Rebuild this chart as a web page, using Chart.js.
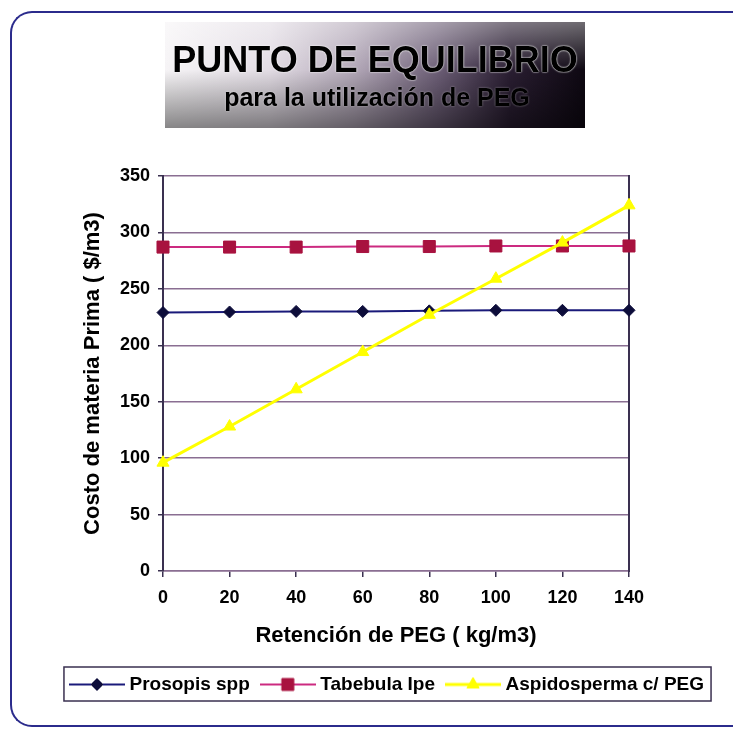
<!DOCTYPE html>
<html>
<head>
<meta charset="utf-8">
<script src="https://cdn.jsdelivr.net/npm/chart.js@4"></script>
<style>
  html, body { margin: 0; padding: 0; background: #fff; overflow: hidden; }
  #wrap { position: relative; width: 733px; height: 730px; overflow: hidden; }
  #frame {
    position: absolute; left: 10px; top: 11px; width: 723px; height: 716px;
    border: 2px solid #2b2b8c; border-right: none;
    border-radius: 22px 0 0 22px; box-sizing: border-box;
  }
  #chart { position: absolute; left: 0; top: 0; }
  #banner {
    position: absolute; left: 165px; top: 22px; width: 420px; height: 106px;
    background:
      linear-gradient(180deg, rgba(255,255,255,0.4) 0%, rgba(255,255,255,0) 45%, rgba(0,0,0,0.45) 100%),
      linear-gradient(90deg, #f6f4f6 0%, #e2dce4 25%, #b3a8b8 45%, #6c5e76 65%, #2a1e32 82%, #0e0812 100%);
  }
  #banner div {
    position: absolute; left: 0; width: 100%; text-align: center;
    font-family: "Liberation Sans", Arial, sans-serif; font-weight: bold; color: #000;
    white-space: nowrap;
  }
  #banner .t1 { top: 20px; font-size: 36px; line-height: 36px; text-shadow: 0 0 2px #fff, 0 0 1px #fff; }
  #banner .t2 { top: 63px; left: 2px; font-size: 25px; line-height: 25px; text-shadow: 0 0 2px rgba(255,255,255,0.5); }
</style>
</head>
<body>
<div id="wrap">
  <div id="frame"></div>
  <canvas id="chart" width="733" height="730"></canvas>
  <div id="banner">
    <div class="t1">PUNTO DE EQUILIBRIO</div>
    <div class="t2">para la utilización de PEG</div>
  </div>
</div>
<script>
// Retención de PEG (kg/m3)
const retencion = ['0', '20', '40', '60', '80', '100', '120', '140'];
// Costo de materia prima ($/m3)
const prosopis = [229, 229.5, 230, 230, 230.5, 231, 231, 231];
const tabebula = [287, 287, 287, 287.5, 287.5, 288, 288, 288];
const aspidosperma = [96, 128, 161, 194, 227, 259, 291, 324];
const yTicks = [0, 50, 100, 150, 200, 250, 300, 350];

const seriesNames = ['Prosopis spp', 'Tabebula Ipe', 'Aspidosperma c/ PEG'];

const FONT = '"Liberation Sans", Arial, sans-serif';
const GRID = '#8a6e92';
const AXIS = '#3a3050';

// Small line + marker swatches for the legend
function swatch(color, width, marker, fill) {
  const c = document.createElement('canvas');
  c.width = 56; c.height = 20;
  const g = c.getContext('2d');
  g.strokeStyle = color; g.lineWidth = width;
  g.beginPath(); g.moveTo(0, 10); g.lineTo(56, 10); g.stroke();
  g.fillStyle = fill; g.strokeStyle = fill; g.lineWidth = 1;
  g.beginPath();
  const x = 28, y = 10;
  if (marker === 'rectRot') {
    g.moveTo(x, y - 6); g.lineTo(x + 6, y); g.lineTo(x, y + 6); g.lineTo(x - 6, y); g.closePath();
  } else if (marker === 'rect') {
    g.rect(x - 6, y - 6, 12, 12);
  } else {
    g.moveTo(x, y - 7); g.lineTo(x + 6.1, y + 3.5); g.lineTo(x - 6.1, y + 3.5); g.closePath();
  }
  g.fill(); g.stroke();
  return c;
}
const legendSwatches = [
  swatch('#1a1a7a', 2, 'rectRot', '#0d0d3a'),
  swatch('#cc2a80', 2, 'rect', '#a8123f'),
  swatch('#ffff00', 3, 'triangle', '#ffff00')
];

// Box drawn round the legend items
const legendFrame = {
  id: 'legendFrame',
  afterDraw(chart) {
    const lg = chart.legend;
    if (!lg || !lg.legendHitBoxes || !lg.legendHitBoxes.length) return;
    const hb = lg.legendHitBoxes;
    const left = hb[0].left - 10;
    const right = hb[hb.length - 1].left + hb[hb.length - 1].width + 7;
    const top = lg.top + 7, bottom = lg.bottom - 3;
    const ctx = chart.ctx;
    ctx.save();
    ctx.strokeStyle = AXIS; ctx.lineWidth = 1.5;
    ctx.strokeRect(left, top, right - left, bottom - top);
    ctx.restore();
  }
};

new Chart(document.getElementById('chart'), {
  type: 'line',
  data: {
    labels: retencion,
    datasets: [
      {
        label: seriesNames[0], data: prosopis, order: 2,
        borderColor: '#1a1a7a', borderWidth: 2,
        pointStyle: 'rectRot', pointRadius: 6, pointHoverRadius: 6,
        pointBackgroundColor: '#0d0d3a', pointBorderColor: '#0d0d3a', pointBorderWidth: 1
      },
      {
        label: seriesNames[1], data: tabebula, order: 1,
        borderColor: '#cc2a80', borderWidth: 2,
        pointStyle: 'rect', pointRadius: 8.5, pointHoverRadius: 8.5,
        pointBackgroundColor: '#a8123f', pointBorderColor: '#a8123f', pointBorderWidth: 1
      },
      {
        label: seriesNames[2], data: aspidosperma, order: 0,
        borderColor: '#ffff00', borderWidth: 3,
        pointStyle: 'triangle', pointRadius: 7, pointHoverRadius: 7,
        pointBackgroundColor: '#ffff00', pointBorderColor: '#ffff00', pointBorderWidth: 1
      }
    ]
  },
  options: {
    responsive: false,
    animation: false,
    devicePixelRatio: 1,
    layout: { padding: { left: 50, right: 5, top: 176, bottom: 26 } },
    plugins: {
      title: { display: false },
      tooltip: { enabled: false },
      legend: {
        position: 'bottom',
        labels: {
          usePointStyle: true,
          pointStyleWidth: 46,
          padding: 15,
          color: '#000',
          font: { family: FONT, size: 19, weight: 'bold' },
          generateLabels(chart) {
            // keep the series in dataset order, each with its own swatch
            return chart.data.datasets.map((ds, i) => ({
              text: ds.label,
              datasetIndex: i,
              hidden: false,
              fontColor: '#000',
              lineWidth: 0,
              strokeStyle: 'transparent',
              fillStyle: 'transparent',
              pointStyle: legendSwatches[i]
            }));
          }
        }
      }
    },
    scales: {
      x: {
        type: 'category',
        offset: false,
        afterFit(scale) { scale.height = 89; },
        grid: { display: true, drawOnChartArea: false, drawTicks: true, tickLength: 6, tickColor: AXIS, lineWidth: 1.5 },
        border: { display: true, color: GRID, width: 1.5 },
        ticks: { color: '#000', padding: 10, maxRotation: 0, font: { family: FONT, size: 18, weight: 'bold' } },
        title: {
          display: true, text: 'Retención de PEG ( kg/m3)', color: '#000',
          padding: { top: 0, bottom: 11 },
          font: { family: FONT, size: 22, weight: 'bold' }
        }
      },
      y: {
        position: 'left',
        min: 0, max: 350,
        afterFit(scale) { scale.width = 113; },
        afterBuildTicks(scale) { scale.ticks = yTicks.map(v => ({ value: v })); },
        grid: { color: GRID, lineWidth: 1.5, drawTicks: true, tickLength: 5, tickColor: AXIS },
        border: { display: true, color: AXIS, width: 2 },
        ticks: { color: '#000', padding: 8, font: { family: FONT, size: 18, weight: 'bold' } },
        title: {
          display: true, text: 'Costo de materia Prima ( $/m3)', color: '#000',
          padding: { top: 30, bottom: 0 },
          font: { family: FONT, size: 22, weight: 'bold' }
        }
      },
      yRight: {
        position: 'right',
        min: 0, max: 350,
        afterFit(scale) { scale.width = 99; },
        grid: { display: false },
        border: { display: true, color: AXIS, width: 2 },
        ticks: { display: false }
      }
    }
  },
  plugins: [legendFrame]
});
</script>
</body>
</html>
